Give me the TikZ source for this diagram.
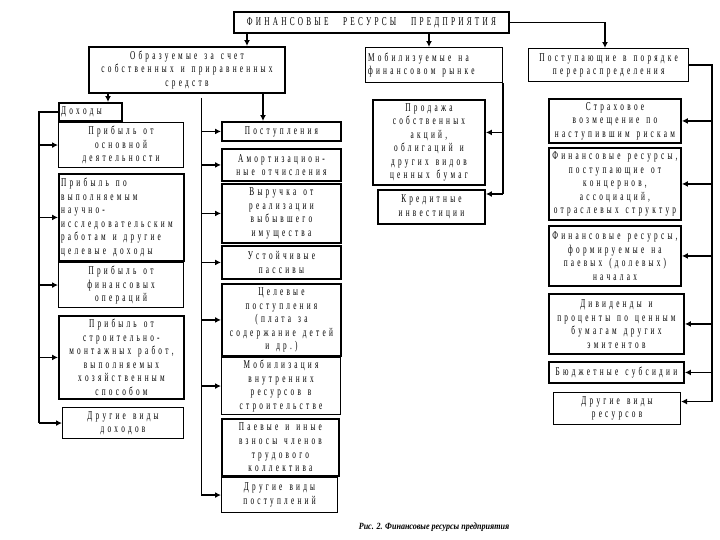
\documentclass[tikz,border=0pt]{standalone}
\usepackage{fontspec}
\usetikzlibrary{arrows.meta,calc}
\newfontfamily\rf{Liberation Serif}
\newfontfamily\cf[FakeStretch=0.85]{Liberation Serif}
\newcommand\ws{\hspace{1pt}}
\newcommand\lspk{5.3pt}
\makeatletter
\def\lsp@end{\lsp@end@}
\def\lsp#1{\lsp@#1\lsp@end}
\def\lsp@#1{%
  \ifx#1\lsp@end \def\lsp@next{\kern-\lspk}%
  \else\ifx#1\\\def\lsp@next{\kern-\lspk\\\lsp@}%
  \else\def\lsp@next{#1\kern\lspk\lsp@}\fi\fi
  \lsp@next}
\makeatother
\tikzset{
  bx/.style={draw, line width=1.1pt, inner sep=0pt, anchor=north west},
  tx/.style={transform shape, xscale=0.61, inner sep=0pt, align=center,
    font=\rf\fontsize{12}{13.6}\selectfont},
  txl/.style={tx, anchor=west, align=left},
  tk/.style={line width=1.9pt},
  conn/.style={line width=1.8pt},
  thinconn/.style={line width=0.8pt},
  arr/.style={-{Latex[length=6pt,width=6pt]}},
}
% style, name, x, y, w, h, text
\newcommand\bxx[7]{\node[bx,#1,minimum width=#5bp,minimum height=#6bp] (#2) at (#3,#4) {};
  \node[tx] (#2t) at (#2.center) {\lsp{#7}};}
\newcommand\bxl[7]{\node[bx,#1,minimum width=#5bp,minimum height=#6bp] (#2) at (#3,#4) {};
  \node[txl] (#2t) at ($(#2.west)+(3,0)$) {\lsp{#7}};}
\begin{document}
\begin{tikzpicture}[x=1bp,y=-1bp]
\path[use as bounding box] (0,0) rectangle (720,540);
% title
\node[bx,tk,minimum width=275bp,minimum height=21bp] (title) at (233,11) {};
\node[tx,font=\rf\fontsize{12}{12}\selectfont] (titlet) at (title.center) {\lsp{ФИНАНСОВЫЕ\ws\ws\ws РЕСУРСЫ\ws\ws\ws ПРЕДПРИЯТИЯ}};
% level 2
\bxx{tk}{obr}{88}{46}{196}{46}{Образуемые\ws за\ws счет\\собственных\ws и\ws приравненных\\средств}
\bxl{}{mob}{365}{47}{137}{35}{Мобилизуемые\ws на\\финансовом\ws рынке}
\bxx{line width=1.4pt}{pst}{528}{48}{160}{33}{Поступающие\ws в\ws порядке\\перераспределения}
% left column
\bxl{tk}{doh}{58}{102}{63}{18}{Доходы}
\bxx{}{p1}{58}{122}{125}{45}{Прибыль\ws от\\основной\\деятельности}
\bxl{tk}{p2}{58}{173}{125}{87}{Прибыль\ws по\\выполняемым\\научно-\\исследовательским\\работам\ws и\ws другие\\целевые\ws доходы}
\bxx{}{p3}{58}{262}{125}{45}{Прибыль\ws от\\финансовых\\операций}
\bxx{tk}{p4}{58}{315}{125}{83}{Прибыль\ws от\\строительно-\\монтажных\ws работ,\\выполняемых\\хозяйственным\\способом}
\bxx{}{p5}{62}{407}{121}{31}{Другие\ws виды\\доходов}
% middle column
\bxx{tk}{m1}{221}{121}{119}{19}{Поступления}
\bxx{tk}{m2}{221}{148}{119}{32}{Амортизацион-\\ные\ws отчисления}
\bxx{tk}{m3}{221}{183}{119}{59}{Выручка\ws от\\реализации\\выбывшего\\имущества}
\bxx{tk}{m4}{221}{245}{119}{33}{Устойчивые\\пассивы}
\bxx{tk}{m5}{221}{283}{119}{72}{Целевые\\поступления\\(плата\ws за\\содержание\ws детей\\и\ws др.)}
\bxx{}{m6}{221}{357}{119}{57}{Мобилизация\\внутренних\\ресурсов\ws в\\строительстве}
\bxx{tk}{m7}{221}{418}{117}{57}{Паевые\ws и\ws иные\\взносы\ws членов\\трудового\\коллектива}
\bxx{}{m8}{221}{477}{116}{35}{Другие\ws виды\\поступлений}
% financial market column
\bxx{tk}{f1}{372}{99}{112}{85}{Продажа\\собственных\\акций,\\облигаций\ws и\\других\ws видов\\ценных\ws бумаг}
\bxx{tk}{f2}{377}{189}{107}{34}{Кредитные\\инвестиции}
% right column
\bxx{tk}{r1}{548}{98}{132}{44}{Страховое\\возмещение\ws по\\наступившим\ws рискам}
\bxx{tk}{r2}{548}{147}{132}{72}{Финансовые\ws ресурсы,\\поступающие\ws от\\концернов,\\ассоциаций,\\отраслевых\ws структур}
\bxx{tk}{r3}{548}{225}{132}{60}{Финансовые\ws ресурсы,\\формируемые\ws на\\паевых\ws (долевых)\\началах}
\bxx{tk}{r4}{548}{293}{135}{60}{Дивиденды\ws и\\проценты\ws по\ws ценным\\бумагам\ws других\\эмитентов}
\bxx{tk}{r5}{548}{361}{135}{21}{Бюджетные\ws субсидии}
\bxx{}{r6}{553}{392}{127}{32}{Другие\ws виды\\ресурсов}
% caption
\node[font=\cf\bfseries\itshape\fontsize{9.5}{11}\selectfont, inner sep=0pt] (cap) at (434,527) {Рис. 2. Финансовые ресурсы предприятия};
% connectors from title
\coordinate (xA) at (247,0);
\coordinate (xB) at (429,0);
\coordinate (xC) at (605,0);
\coordinate (xD) at (108,0);
\coordinate (xE) at (263,0);
\coordinate (xL) at (39,0);
\coordinate (xR) at (712,0);
\coordinate (mtop) at (201,98);
\draw[conn,arr] (title.south -| xA) -- (obr.north -| xA);
\draw[conn,arr] (title.south -| xB) -- (mob.north -| xB);
\draw[conn,arr] (title.east) -| (pst.north -| xC);
\draw[conn,arr] (obr.south -| xD) -- (doh.north -| xD);
\draw[conn,arr] (obr.south -| xE) -- (m1.north -| xE);
% left trunk
\draw[conn] (doh.west) -| (p5.west -| xL);
\foreach \n in {p1,p2,p3,p4,p5} \draw[conn,arr] (\n.west -| xL) -- (\n.west);
% middle trunk
\draw[thinconn] (mtop) -- (m8.west -| mtop);
\foreach \n in {m1,m2,m3,m4,m5,m6,m8} \draw[conn,arr] (\n.west -| mtop) -- (\n.west);
% financial market trunk
\coordinate (fa) at ($(f1.east)+(0,-10)$);
\coordinate (fb) at ($(f2.north east)+(0,5)$);
\draw[conn] (mob.south east) -- (fb -| mob.south east);
\draw[conn,arr] (fa -| mob.south east) -- (fa);
\draw[conn,arr] (fb -| mob.south east) -- (fb);
% right trunk
\coordinate (rb) at ($(r6.east)+(0,-7)$);
\draw[conn] (pst.east) -| (rb -| xR);
\foreach \n in {r1,r2,r3,r4,r5} \draw[conn,arr] (\n.east -| xR) -- (\n.east);
\draw[conn,arr] (rb -| xR) -- (rb);
\end{tikzpicture}
\end{document}
